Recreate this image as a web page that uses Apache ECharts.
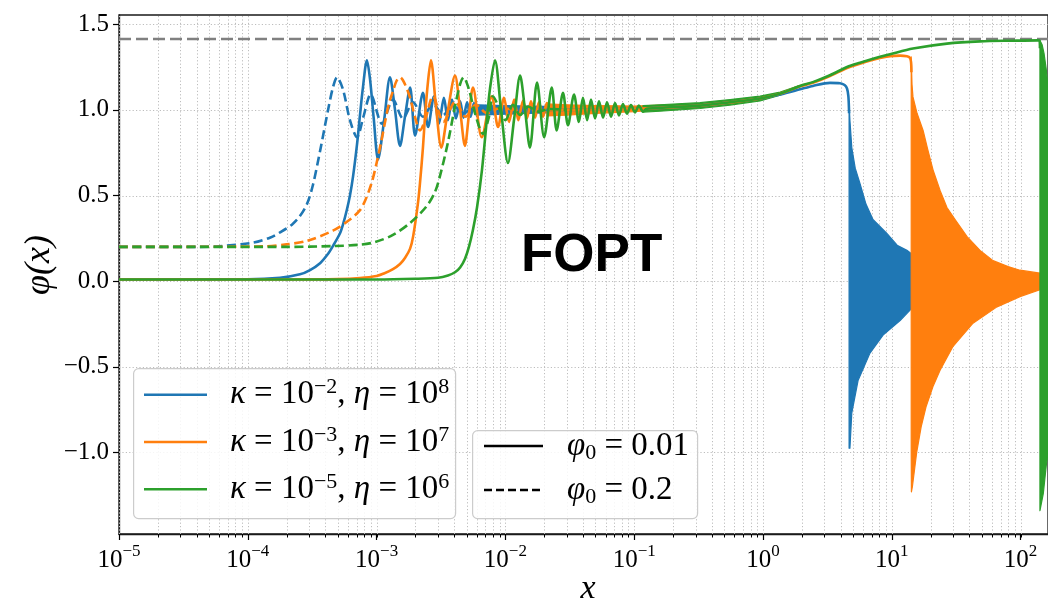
<!DOCTYPE html>
<html><head><meta charset="utf-8">
<script src="https://cdn.jsdelivr.net/npm/echarts@6/dist/echarts.min.js"></script>
<style>html,body{margin:0;padding:0;background:#fff}#c{width:1048px;height:599px}</style>
</head><body><div id="c"></div>
<script>
// ---------- axis ranges / ticks ----------
const X_MIN = 1e-5, X_MAX = 163.2;
const Y_MIN = -1.476, Y_MAX = 1.554;
const X_TICKS = [1e-5, 1e-4, 1e-3, 1e-2, 1e-1, 1e0, 1e1, 1e2];
const Y_TICKS = [-1.0, -0.5, 0.0, 0.5, 1.0, 1.5];
const CRITICAL = 1.4142;

// ---------- curves: [x, phi] ----------
const blueSolid = [[1e-5,0.010],[1.0e-4,0.011],[1.78e-4,0.020],[2.54e-4,0.040],[3.04e-4,0.065],[3.64e-4,0.105],[4.2e-4,0.16],[4.58e-4,0.205],[5.2e-4,0.28],[5.48e-4,0.33],[5.89e-4,0.42],[6.21e-4,0.50],[6.56e-4,0.61],[7.05e-4,0.80],[7.43e-4,0.97],[7.83e-4,1.13],[8.41e-4,1.29],[8.89e-4,1.18],[9.5e-4,0.95],[1.026e-3,0.71],[1.14e-3,0.93],[1.27e-3,1.19],[1.39e-3,1.0],[1.52e-3,0.79],[1.66e-3,0.96],[1.82e-3,1.13],[1.99e-3,0.85],[2.29e-3,1.10],[2.51e-3,0.90],[2.79e-3,1.08],[3.05e-3,0.92],[3.33e-3,1.07],[3.58e-3,0.94],[3.85e-3,1.06],[4.13e-3,0.95],[4.45e-3,1.05],[4.73e-3,0.955],[5.04e-3,1.045],[5.36e-3,0.96],[5.70e-3,1.04],[6.02e-3,0.965],[6.4e-3,1.0],[1e-2,1.0],[3e-2,1.0],[9.27e-2,1.007],[0.158,1.012],[0.324,1.025],[0.555,1.044],[0.949,1.066],[1.36,1.09],[1.94,1.12],[2.44,1.14],[3.31,1.158],[3.96,1.156],[4.3,1.145],[4.49,1.125],[4.6,1.08],[4.66,0.98]];
const blueDashed = [[1e-5,0.2],[4.26e-5,0.2],[6e-5,0.204],[1.1e-4,0.225],[1.5e-4,0.255],[1.78e-4,0.285],[2.2e-4,0.33],[2.54e-4,0.38],[2.88e-4,0.45],[3.2e-4,0.56],[3.64e-4,0.76],[4.2e-4,1.0],[4.58e-4,1.13],[4.93e-4,1.19],[5.48e-4,1.12],[6.21e-4,0.94],[7.05e-4,0.84],[7.9e-4,0.96],[8.99e-4,1.09],[1.10e-3,0.92],[1.34e-3,1.06],[1.60e-3,0.95],[1.92e-3,1.045],[2.29e-3,0.96],[2.74e-3,1.035],[3.28e-3,0.97],[3.92e-3,1.025],[4.73e-3,0.98],[5.7e-3,1.015],[7e-3,0.99],[1e-2,1.0]];
const blueMidUpper = [[6e-3,1.03],[1e-2,1.025],[2e-2,1.02],[5e-2,1.015],[0.1,1.018],[0.3,1.03]];
const blueMidLower = [[6e-3,0.97],[1e-2,0.975],[2e-2,0.982],[5e-2,0.99],[0.1,0.998],[0.3,1.02]];
const blueEndUpper = [[4.66,1.04],[4.73,0.94],[4.89,0.78],[5.2,0.66],[5.66,0.57],[6.3,0.45],[7.14,0.36],[9.12,0.28],[11.0,0.21],[13.1,0.18],[16,0.13],[22,0.08],[30,0.04]];
const blueEndLower = [[4.66,-0.975],[4.73,-0.975],[4.89,-0.77],[5.47,-0.58],[6.77,-0.42],[8.55,-0.315],[11.6,-0.23],[13.8,-0.17],[18,-0.11],[24,-0.07],[30,-0.045]];

const orangeSolid = [[1e-5,0.01],[2e-4,0.01],[5e-4,0.012],[7.43e-4,0.018],[1.0e-3,0.03],[1.14e-3,0.045],[1.34e-3,0.07],[1.52e-3,0.10],[1.66e-3,0.135],[1.82e-3,0.19],[1.92e-3,0.26],[2.09e-3,0.45],[2.17e-3,0.57],[2.29e-3,0.78],[2.38e-3,0.97],[2.51e-3,1.17],[2.64e-3,1.29],[2.89e-3,1.02],[3.18e-3,0.78],[3.58e-3,1.0],[4.06e-3,1.20],[4.45e-3,1.0],[4.85e-3,0.79],[5.21e-3,0.97],[5.60e-3,1.13],[6.55e-3,0.84],[7.83e-3,1.08],[8.77e-3,0.90],[9.75e-3,1.07],[1.067e-2,0.93],[1.17e-2,1.06],[1.26e-2,0.94],[1.37e-2,1.055],[1.47e-2,0.95],[1.58e-2,1.05],[1.70e-2,0.955],[1.82e-2,1.045],[1.96e-2,0.96],[2.10e-2,1.04],[2.25e-2,1.0],[3e-2,1.0],[9.27e-2,1.007],[0.158,1.012],[0.324,1.025],[0.555,1.044],[0.949,1.066],[1.36,1.095],[1.94,1.138],[2.44,1.158],[3.31,1.198],[4.49,1.245],[5.66,1.27],[8.09,1.303],[9.69,1.314],[11.6,1.317],[13.1,1.313],[13.8,1.305],[14.1,1.28],[14.2,1.22]];
const orangeDashed = [[1e-5,0.2],[1.31e-4,0.203],[2.0e-4,0.215],[2.88e-4,0.235],[4.58e-4,0.295],[6.21e-4,0.36],[7.43e-4,0.415],[8.2e-4,0.475],[9.2e-4,0.58],[1.0e-3,0.69],[1.09e-3,0.82],[1.17e-3,0.94],[1.25e-3,1.04],[1.34e-3,1.11],[1.43e-3,1.17],[1.52e-3,1.19],[1.66e-3,1.15],[1.82e-3,1.07],[2.0e-3,0.95],[2.17e-3,0.88],[2.38e-3,0.94],[2.74e-3,1.08],[3.3e-3,0.93],[4.1e-3,1.05],[4.9e-3,0.96],[5.9e-3,1.03],[7.2e-3,0.98],[9e-3,1.01],[1.2e-2,1.0]];
const orangeMidUpper = [[2.1e-2,1.035],[3e-2,1.03],[5e-2,1.025],[0.1,1.022],[0.3,1.035]];
const orangeMidLower = [[2.1e-2,0.965],[3e-2,0.97],[5e-2,0.98],[0.1,0.99],[0.3,1.015]];
const orangeEndUpper = [[14.15,1.31],[14.35,1.15],[14.6,1.076],[15.7,0.98],[17.5,0.88],[19,0.77],[20.9,0.65],[23.7,0.53],[26.8,0.43],[31,0.36],[38.4,0.26],[48.4,0.18],[61.1,0.12],[80,0.085],[98.9,0.064],[141.5,0.047],[170,0.04]];
const orangeEndLower = [[14.15,-1.0],[14.2,-1.23],[14.45,-1.20],[15.6,-1.0],[16.9,-0.85],[18.5,-0.73],[21,-0.61],[23.7,-0.52],[29.9,-0.38],[42.7,-0.245],[65.6,-0.15],[98.9,-0.09],[141.5,-0.05],[170,-0.045]];

const greenSolid = [[1e-5,0.01],[1e-3,0.01],[2e-3,0.014],[3e-3,0.02],[3.58e-3,0.033],[4.06e-3,0.052],[4.45e-3,0.08],[4.85e-3,0.13],[5.21e-3,0.2],[5.6e-3,0.3],[6.02e-3,0.43],[6.58e-3,0.65],[7.19e-3,0.95],[7.58e-3,1.12],[8.3e-3,1.29],[9.25e-3,1.0],[1.047e-2,0.69],[1.17e-2,0.95],[1.30e-2,1.20],[1.42e-2,1.0],[1.55e-2,0.78],[1.76e-2,1.16],[2.0e-2,0.84],[2.29e-2,1.13],[2.50e-2,0.88],[2.80e-2,1.10],[3.06e-2,0.91],[3.41e-2,1.09],[3.72e-2,0.93],[4.0e-2,1.07],[4.31e-2,0.94],[4.62e-2,1.06],[4.97e-2,0.95],[5.33e-2,1.05],[5.73e-2,0.955],[6.15e-2,1.045],[6.61e-2,0.96],[7.10e-2,1.04],[7.62e-2,0.968],[8.18e-2,1.034],[8.79e-2,0.978],[9.44e-2,1.028],[0.1014,0.985],[0.1089,1.025],[0.117,0.99],[0.125,1.006],[0.158,1.012],[0.324,1.025],[0.555,1.045],[0.949,1.066],[1.36,1.095],[1.94,1.14],[2.44,1.162],[3.31,1.202],[4.49,1.25],[5.66,1.275],[8.09,1.31],[9.69,1.325],[14.6,1.358],[26.8,1.387],[48.4,1.40],[87.3,1.404],[136.5,1.406],[140.5,1.404],[141.3,1.36]];
const greenDashed = [[1e-5,0.2],[2e-4,0.2],[4.58e-4,0.205],[7.43e-4,0.213],[9.73e-4,0.228],[1.34e-3,0.27],[1.82e-3,0.34],[2.4e-3,0.43],[2.8e-3,0.51],[3.07e-3,0.60],[3.58e-3,0.81],[4.06e-3,1.02],[4.45e-3,1.15],[4.73e-3,1.19],[5.21e-3,1.12],[5.81e-3,0.98],[6.70e-3,0.86],[7.40e-3,0.95],[8.0e-3,1.08],[9.08e-3,1.0],[1.0e-2,0.94],[1.146e-2,1.03],[1.3e-2,0.97],[1.5e-2,1.02],[1.8e-2,0.99],[2.2e-2,1.005],[3e-2,1.0]];
const greenMidUpper = [[0.117,1.025],[0.158,1.03],[0.324,1.042],[0.555,1.06],[0.949,1.08],[1.36,1.104],[1.94,1.143]];
const greenMidLower = [[0.117,0.987],[0.158,0.992],[0.324,1.008],[0.555,1.028],[0.949,1.052],[1.36,1.086],[1.94,1.135]];
const greenEndUpper = [[141.3,1.405],[147,1.38],[152,1.33],[158,1.24],[163.3,1.13],[180,1.0]];
const greenEndLower = [[141.3,-1.34],[150,-1.24],[158,-1.08],[163.3,-1.0],[180,-0.85]];

const legendLabels1 = [['κ','−2','η','8'],['κ','−3','η','7'],['κ','−5','η','6']];
const legendLabels2 = [['φ','0','0.01'],['φ','0','0.2']];

// ---------- styles ----------
const BLUE = '#1f77b4', ORANGE = '#ff7f0e', GREEN = '#2ca02c';
const LW = 2.6;
const DASH = [9, 4.5];
const SERIF = "'Liberation Serif', 'DejaVu Serif', serif";

const minorX = [];
for (let e = -5; e <= 2; e++) for (let m = 2; m <= 9; m++) { const v = m * Math.pow(10, e); if (v <= X_MAX) minorX.push(v); }

function lineSeries(data, color, dashed) {
  return { type: 'line', data: data, showSymbol: false, smooth: 0.3, silent: true,
    lineStyle: { color: color, width: LW, type: dashed ? DASH : 'solid', cap: 'butt', join: 'round' } };
}
function bandSeries(upper, lower, color) {
  return { type: 'custom', coordinateSystem: 'cartesian2d', silent: true, data: [[1, 0]],
    renderItem: function (params, api) {
      const cs = params.coordSys;
      const pts = [];
      upper.forEach(p => pts.push(api.coord(p)));
      for (let i = lower.length - 1; i >= 0; i--) pts.push(api.coord(lower[i]));
      return { type: 'group', clipPath: { type: 'rect', shape: { x: cs.x, y: cs.y, width: cs.width, height: cs.height } },
        children: [{ type: 'polygon', shape: { points: pts }, style: { fill: color, stroke: color, lineWidth: 1.2, lineJoin: 'round' } }] };
    } };
}
const gridSeries = { type: 'custom', coordinateSystem: 'cartesian2d', silent: true, data: [[1, 0]],
  renderItem: function (params, api) {
    const st = { stroke: '#bdbdbd', lineWidth: 1, lineDash: [1.2, 2.2] };
    const ch = [];
    X_TICKS.concat(minorX).forEach(v => {
      const a = api.coord([v, Y_MIN]), b = api.coord([v, Y_MAX]);
      ch.push({ type: 'line', shape: { x1: Math.round(a[0]) + 0.5, y1: a[1], x2: Math.round(b[0]) + 0.5, y2: b[1] }, style: st });
      ch.push({ type: 'line', shape: { x1: Math.round(a[0]) + 0.5, y1: a[1], x2: Math.round(a[0]) + 0.5, y2: a[1] + 3.5 }, style: { stroke: '#000', lineWidth: 1 } });
    });
    Y_TICKS.forEach(v => {
      const a = api.coord([X_MIN, v]), b = api.coord([X_MAX, v]);
      ch.push({ type: 'line', shape: { x1: a[0], y1: Math.round(a[1]) + 0.5, x2: b[0], y2: Math.round(b[1]) + 0.5 }, style: st });
    });
    return { type: 'group', children: ch };
  } };

const series = [
  gridSeries,
  { type: 'line', data: [[X_MIN, CRITICAL], [X_MAX, CRITICAL]], showSymbol: false, silent: true,
    lineStyle: { color: '#808080', width: 2.5, type: [12, 5] } },
  lineSeries(blueSolid, BLUE, false), bandSeries(blueMidUpper, blueMidLower, BLUE), bandSeries(blueEndUpper, blueEndLower, BLUE), lineSeries(blueDashed, BLUE, true),
  lineSeries(orangeSolid, ORANGE, false), bandSeries(orangeMidUpper, orangeMidLower, ORANGE), bandSeries(orangeEndUpper, orangeEndLower, ORANGE), lineSeries(orangeDashed, ORANGE, true),
  lineSeries(greenSolid, GREEN, false), bandSeries(greenMidUpper, greenMidLower, GREEN), bandSeries(greenEndUpper, greenEndLower, GREEN), lineSeries(greenDashed, GREEN, true)
];

// ---------- legends (graphic) ----------
const rich = {
  t: { fontFamily: SERIF, fontSize: 33, lineHeight: 36, color: '#000' },
  i: { fontFamily: SERIF, fontStyle: 'italic', fontSize: 33, lineHeight: 36, color: '#000' },
  s: { fontFamily: SERIF, fontSize: 22, lineHeight: 16, verticalAlign: 'top', color: '#000' },
  u: { fontFamily: SERIF, fontSize: 22, lineHeight: 14, verticalAlign: 'bottom', color: '#000' }
};
const graphics = [];
graphics.push({ type: 'rect', left: 133, top: 368, shape: { width: 322, height: 150, r: 5 }, style: { fill: 'rgba(255,255,255,0.85)', stroke: '#cccccc', lineWidth: 1.2 }, z: 100 });
const rows1 = [394.7, 442, 489.3], cols1 = [BLUE, ORANGE, GREEN];
legendLabels1.forEach((L, k) => {
  graphics.push({ type: 'line', shape: { x1: 144, y1: rows1[k], x2: 207, y2: rows1[k] }, style: { stroke: cols1[k], lineWidth: LW }, z: 101 });
  graphics.push({ type: 'text', x: 230, y: rows1[k], z: 101, style: { text: '{i|' + L[0] + '}{t| = 10}{s|' + L[1] + '}{t|, }{i|' + L[2] + '}{t| = 10}{s|' + L[3] + '}', rich: rich, verticalAlign: 'middle', align: 'left' } });
});
graphics.push({ type: 'rect', left: 472, top: 430, shape: { width: 225, height: 88, r: 5 }, style: { fill: 'rgba(255,255,255,0.85)', stroke: '#cccccc', lineWidth: 1.2 }, z: 100 });
const rows2 = [446, 490];
legendLabels2.forEach((L, k) => {
  graphics.push({ type: 'line', shape: { x1: 484, y1: rows2[k], x2: 543, y2: rows2[k] }, style: { stroke: '#000', lineWidth: LW, lineDash: k ? [8, 4] : null }, z: 101 });
  graphics.push({ type: 'text', x: 567, y: rows2[k], z: 101, style: { text: '{i|' + L[0] + '}{u|' + L[1] + '}{t| = ' + L[2] + '}', rich: rich, verticalAlign: 'middle', align: 'left' } });
});
graphics.push({ type: 'text', x: 521, y: 256, z: 100, style: { text: 'FOPT', fontFamily: "'Liberation Sans', Arial, sans-serif", fontWeight: 'bold', fontSize: 53, fill: '#000', verticalAlign: 'middle' } });
graphics.push({ type: 'text', x: 588, y: 589, z: 100, style: { text: 'x', fontFamily: SERIF, fontStyle: 'italic', fontSize: 34, fill: '#000', align: 'center', verticalAlign: 'middle' } });
graphics.push({ type: 'text', x: 40, y: 265, rotation: Math.PI / 2, z: 100, style: { text: 'φ(x)', fontFamily: SERIF, fontStyle: 'italic', fontSize: 36, fill: '#000', align: 'center', verticalAlign: 'middle' } });

const chart = echarts.init(document.getElementById('c'), null, { renderer: 'canvas' });
chart.setOption({
  animation: false,
  backgroundColor: '#fff',
  grid: { left: 119, top: 15, right: 0, bottom: 65, show: true, borderColor: '#1a1a1a', borderWidth: 1.3, backgroundColor: 'transparent' },
  xAxis: { type: 'log', logBase: 10, min: X_MIN, max: X_MAX,
    axisLine: { onZero: false, lineStyle: { color: '#1a1a1a', width: 1.3 } },
    axisTick: { customValues: X_TICKS, length: 6, lineStyle: { color: '#000', width: 1.2 } },
    axisLabel: { customValues: X_TICKS, margin: 9, showMaxLabel: true,
      formatter: function (v) { const e = Math.round(Math.log10(v)); return '{b|10}{s|' + (e < 0 ? '−' + (-e) : e) + '}'; },
      rich: { b: { fontFamily: SERIF, fontSize: 25, lineHeight: 34, color: '#000' }, s: { fontFamily: SERIF, fontSize: 17, lineHeight: 8, verticalAlign: 'top', color: '#000' } } },
    splitLine: { show: false } },
  yAxis: { type: 'value', min: Y_MIN, max: Y_MAX,
    axisLine: { show: true, onZero: false, lineStyle: { color: '#1a1a1a', width: 1.3 } },
    axisTick: { show: true, customValues: Y_TICKS, length: 6, lineStyle: { color: '#000', width: 1.2 } },
    axisLabel: { customValues: Y_TICKS, margin: 10, fontFamily: SERIF, fontSize: 25, color: '#000',
      formatter: function (v) { return (v < 0 ? '−' : '') + Math.abs(v).toFixed(1); } },
    splitLine: { show: false } },
  series: series,
  graphic: graphics
});
</script></body></html>
